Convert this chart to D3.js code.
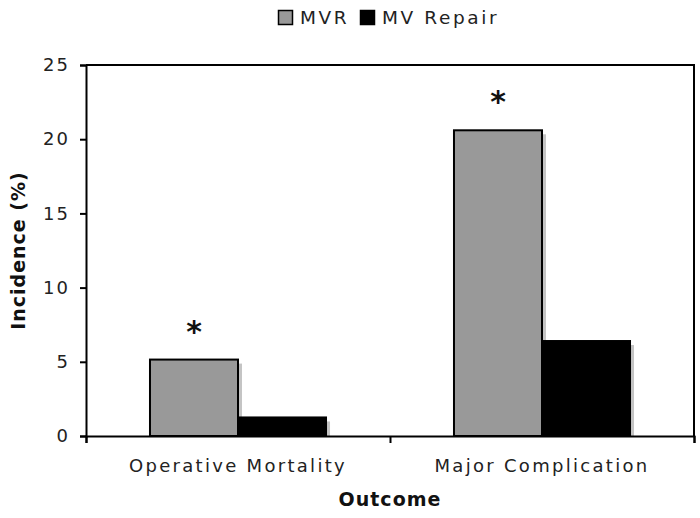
<!DOCTYPE html>
<html>
<head>
<meta charset="utf-8">
<script src="https://cdn.jsdelivr.net/npm/d3@7"></script>
<style>
  body { margin: 0; background: #fff; }
  text { font-family: "DejaVu Sans", Verdana, sans-serif; }
</style>
</head>
<body>
<svg id="chart"></svg>
<script>
// data
const categories = ['Operative Mortality', 'Major Complication'];
const seriesNames = ['MVR', 'MV Repair'];
const mvrValues = [5.15, 20.6];
const repairValues = [1.25, 6.4];
const significant = [true, true];
const yTicks = [0, 5, 10, 15, 20, 25];

const colors = { 'MVR': '#999999', 'MV Repair': '#000000' };

const width = 700, height = 518;
const margin = { top: 65, right: 6, bottom: 82, left: 86 };
const innerW = width - margin.left - margin.right;
const innerH = height - margin.top - margin.bottom;

const svg = d3.select('#chart').attr('width', width).attr('height', height);
const chart = svg.append('g').attr('transform', `translate(${margin.left},${margin.top})`);

const rows = categories.map((c, i) => ({
  cat: c,
  sig: significant[i],
  vals: [
    { key: 'MVR', value: mvrValues[i] },
    { key: 'MV Repair', value: repairValues[i] }
  ]
}));

const x0 = d3.scaleBand().domain(categories).range([0, innerW]).padding(0);
const x1 = d3.scaleBand().domain(seriesNames).range([0, x0.bandwidth()])
  .paddingInner(0).paddingOuter(0.727);
const y = d3.scaleLinear().domain([0, 25]).range([innerH, 0]);

// plot frame (top + right)
chart.append('path')
  .attr('d', `M0,0H${innerW}V${innerH}`)
  .attr('fill', 'none').attr('stroke', '#000').attr('stroke-width', 2);

const groups = chart.selectAll('.grp').data(rows).join('g')
  .attr('class', 'grp')
  .attr('transform', d => `translate(${x0(d.cat)},0)`);

// shadows
groups.selectAll('.shadow').data(d => d.vals).join('rect')
  .attr('class', 'shadow')
  .attr('x', d => x1(d.key) + 4)
  .attr('y', d => y(d.value) + 4)
  .attr('width', x1.bandwidth())
  .attr('height', d => innerH - y(d.value) - 4)
  .attr('fill', '#c4c4c4');

groups.selectAll('.bar').data(d => d.vals).join('rect')
  .attr('class', 'bar')
  .attr('x', d => x1(d.key))
  .attr('y', d => y(d.value))
  .attr('width', x1.bandwidth())
  .attr('height', d => innerH - y(d.value))
  .attr('fill', d => colors[d.key])
  .attr('stroke', '#000')
  .attr('stroke-width', 2);

// significance asterisks
groups.filter(d => d.sig).append('text')
  .attr('x', x1('MVR') + x1.bandwidth() / 2)
  .attr('y', d => y(d.vals[0].value) - 18)
  .attr('text-anchor', 'middle')
  .attr('font-size', 30)
  .attr('font-weight', 'bold')
  .attr('fill', '#111')
  .text('*');

// axes
const yAxis = d3.axisLeft(y).tickValues(yTicks).tickSize(6).tickPadding(10);
const yAxisG = chart.append('g').call(yAxis);
const xAxis = d3.axisBottom(d3.scaleLinear().domain([0, 2]).range([0, innerW]))
  .tickValues([0, 1, 2]).tickSize(7).tickFormat('');
const xAxisG = chart.append('g').attr('transform', `translate(0,${innerH})`).call(xAxis);

[yAxisG, xAxisG].forEach(g => {
  g.select('.domain').attr('stroke', '#000').attr('stroke-width', 2);
  g.selectAll('.tick line').attr('stroke', '#000').attr('stroke-width', 2);
});
yAxisG.selectAll('.tick text')
  .attr('font-size', 18).attr('letter-spacing', 2).attr('fill', '#222')
  .attr('font-family', '"DejaVu Sans", Verdana, sans-serif');

// category labels
chart.selectAll('.catlabel').data(categories).join('text')
  .attr('class', 'catlabel')
  .attr('x', d => x0(d) + x0.bandwidth() / 2)
  .attr('y', innerH + 36)
  .attr('text-anchor', 'middle')
  .attr('font-size', 18)
  .attr('letter-spacing', 2.3)
  .attr('fill', '#222')
  .text(d => d);

// axis titles
chart.append('text')
  .attr('x', innerW / 2)
  .attr('y', innerH + 70)
  .attr('text-anchor', 'middle')
  .attr('font-size', 19).attr('font-weight', 'bold').attr('letter-spacing', 1)
  .attr('fill', '#111')
  .text('Outcome');

chart.append('text')
  .attr('transform', `translate(${-61},${innerH / 2}) rotate(-90)`)
  .attr('text-anchor', 'middle')
  .attr('font-size', 19).attr('font-weight', 'bold').attr('letter-spacing', 1)
  .attr('fill', '#111')
  .text('Incidence (%)');

// legend
const legend = svg.append('g').attr('transform', 'translate(278,10)');
const items = [
  { key: 'MVR', x: 0 },
  { key: 'MV Repair', x: 82 }
];
const li = legend.selectAll('g').data(items).join('g')
  .attr('transform', d => `translate(${d.x},0)`);
li.append('rect')
  .attr('x', 0.5).attr('y', 0.5).attr('width', 14).attr('height', 14)
  .attr('fill', d => colors[d.key]).attr('stroke', '#000').attr('stroke-width', 1.5);
li.append('text')
  .attr('x', 22).attr('y', 14)
  .attr('font-size', 18.5).attr('letter-spacing', 2.6).attr('fill', '#222')
  .text(d => d.key);
</script>
</body>
</html>
